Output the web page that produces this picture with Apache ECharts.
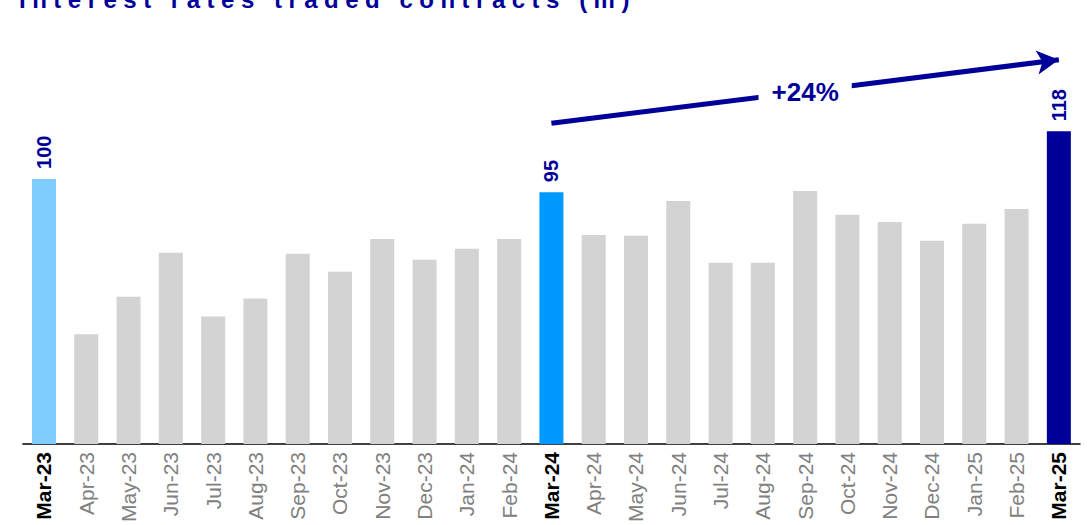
<!DOCTYPE html>
<html>
<head>
<meta charset="utf-8">
<script src="https://cdn.jsdelivr.net/npm/echarts@6/dist/echarts.min.js"></script>
<style>
html,body{margin:0;padding:0;background:#fff;}
#c{width:1092px;height:525px;}
text[style*="TitleSp"]{letter-spacing:6.5px;}
</style>
</head>
<body>
<div id="c"></div>
<script>
const titleText = 'Interest rates traded contracts (m)';
const categories = ['Mar-23','Apr-23','May-23','Jun-23','Jul-23','Aug-23','Sep-23','Oct-23','Nov-23','Dec-23','Jan-24','Feb-24','Mar-24','Apr-24','May-24','Jun-24','Jul-24','Aug-24','Sep-24','Oct-24','Nov-24','Dec-24','Jan-25','Feb-25','Mar-25'];
const values = [100,41.4,55.6,72.2,48.1,54.9,71.8,65.0,77.4,69.5,73.7,77.4,95,78.9,78.6,91.7,68.4,68.4,95.5,86.5,83.8,76.7,83.1,88.7,118];
const labelled = ['Mar-23','Mar-24','Mar-25'];
const highlightColors = {'Mar-23':'#80CCFF','Mar-24':'#0099FF','Mar-25':'#000099'};
const growthLabel = '+24%';
const arrowFrom = ['Mar-24',121];
const arrowTo = ['Mar-25',145];
const growthLabelPos = ['Sep-24',133];

const chart = echarts.init(document.getElementById('c'), null, {renderer:'svg'});
const barData = categories.map((c,i)=>{
  const item = {value: values[i], itemStyle:{color: highlightColors[c] || '#D3D3D3'}};
  if (labelled.includes(c)) item.label = {show:true, formatter: String(Math.round(values[i]))};
  return item;
});
chart.setOption({
  animation:false,
  graphic:[{
    type:'text', left:19, top:-13,
    style:{text:titleText, font:'bold 24px TitleSp, Arial, "Liberation Sans"', fill:'#000099'}
  }],
  grid:{left:22.85, right:12, top:20, bottom:79},
  xAxis:{
    type:'category', data:categories,
    axisLine:{lineStyle:{color:'#000', width:1.5}},
    axisTick:{show:false},
    axisLabel:{
      rotate:90, margin:8, interval:0,
      fontFamily:'Arial, "Liberation Sans"', fontSize:21, color:'#808080',
      formatter:v=> labelled.includes(v) ? '{b|'+v+'}' : v,
      rich:{b:{fontFamily:'Arial, "Liberation Sans"', fontSize:21, fontWeight:'bold', color:'#000'}}
    }
  },
  yAxis:{type:'value', min:0, max:160, show:false, splitLine:{show:false}},
  series:[{
    type:'bar', data:barData, barWidth:24,
    label:{show:false, position:'top', rotate:90, distance:10, align:'left', verticalAlign:'middle',
      fontFamily:'Arial, "Liberation Sans"', fontSize:20, fontWeight:'bold', color:'#000099'},
    markLine:{
      silent:true, symbol:['none','arrow'], symbolSize:[18,22],
      lineStyle:{type:'solid', width:5, color:'#000099'},
      label:{show:false},
      data:[[{coord:arrowFrom},{coord:arrowTo}]]
    }
  },{
    type:'line', data:[], z:10,
    markPoint:{
      silent:true, symbol:'circle', symbolSize:1, itemStyle:{color:'rgba(0,0,0,0)'},
      label:{show:true, position:'inside', formatter:growthLabel, fontFamily:'Arial, "Liberation Sans"',
        fontSize:26, fontWeight:'bold', color:'#000099', backgroundColor:'#fff', padding:[2,13]},
      data:[{coord:growthLabelPos}]
    }
  }]
});
</script>
</body>
</html>
